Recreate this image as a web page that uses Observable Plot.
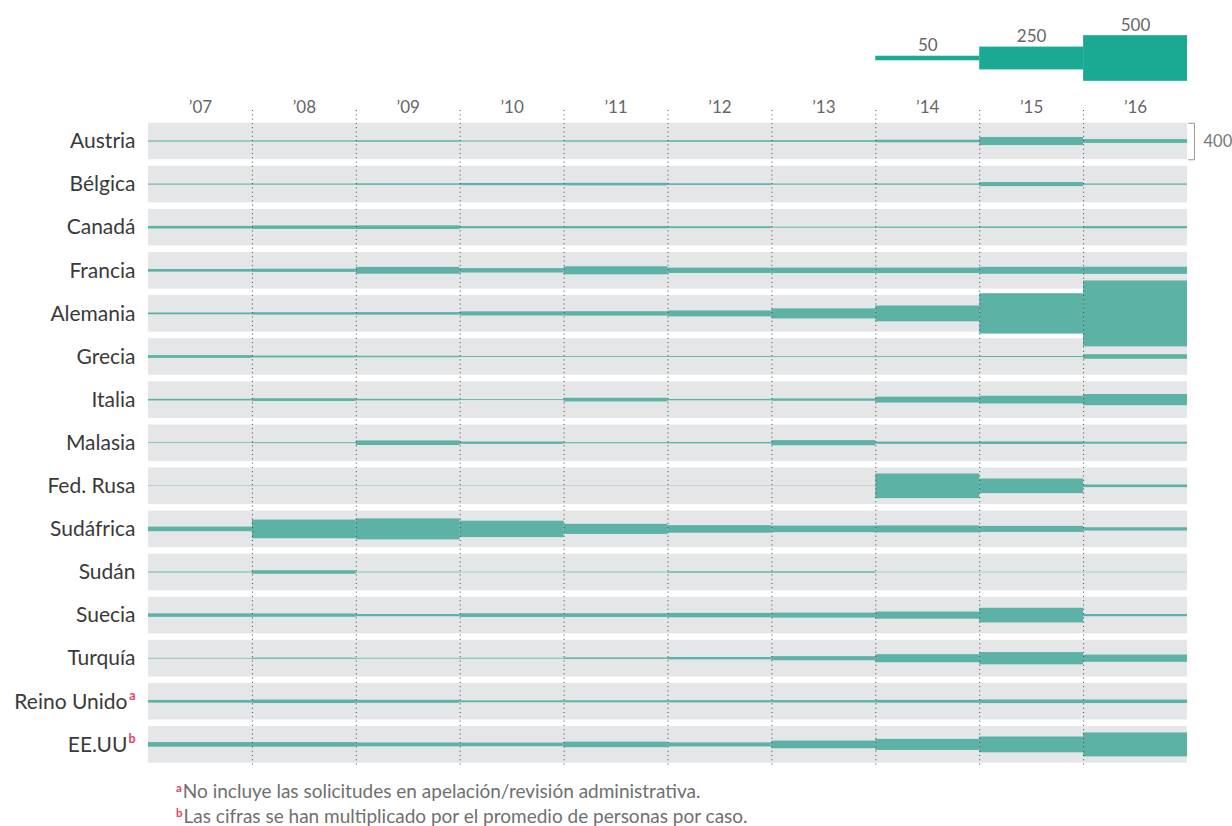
<!DOCTYPE html>
<html>
<head>
<meta charset="utf-8">
<script src="https://cdn.jsdelivr.net/npm/d3@7"></script>
<script src="https://cdn.jsdelivr.net/npm/@observablehq/plot@0.6"></script>
<style>
  html, body { margin: 0; padding: 0; background: #fff; }
  body { width: 1232px; height: 826px; overflow: hidden; font-family: Lato, "Open Sans", sans-serif; }
  #notes { margin-top: 8px; padding-left: 176px; font-size: 19px; line-height: 25px; color: #6f6f6f; }
  #notes sup { color: #e8416a; font-size: 11.5px; font-weight: bold; vertical-align: 6px; line-height: 0; margin-right: 1px; }
</style>
</head>
<body>
<div id="chart"></div>
<div id="notes">
  <div><sup>a</sup>No incluye las solicitudes en apelación/revisión administrativa.</div>
  <div><sup>b</sup>Las cifras se han multiplicado por el promedio de personas por caso.</div>
</div>
<script>
// ---- data (thousands of applications) ----
const countries = ["Austria","Bélgica","Canadá","Francia","Alemania","Grecia","Italia","Malasia","Fed. Rusa","Sudáfrica","Sudán","Suecia","Turquía","Reino Unido","EE.UU"];
const notes = ["","","","","","","","","","","","","","a","b"];
const years = [2007,2008,2009,2010,2011,2012,2013,2014,2015,2016];
const yearLabels = ["’07","’08","’09","’10","’11","’12","’13","’14","’15","’16"];

const austria    = [12, 13, 16, 11, 14, 17, 18, 28, 88, 42];
const belgica    = [11, 12, 17, 24, 28, 18, 12, 14, 44, 14];
const canada     = [28, 37, 40, 23, 25, 20, 10, 13, 16, 24];
const francia    = [29, 35, 75, 48, 88, 58, 60, 60, 76, 78];
const alemania   = [20, 26, 28, 45, 48, 65, 110, 173, 442, 722];
const grecia     = [30, 20, 16, 10, 9, 10, 8, 9, 11, 50];
const italia     = [18, 30, 17, 10, 40, 15, 25, 64, 84, 122];
const malasia    = [7, 10, 50, 25, 12, 15, 56, 24, 28, 22];
const rusia      = [4, 4, 4, 4, 3, 3, 3, 270, 160, 29];
const sudafrica  = [50, 204, 230, 179, 110, 82, 72, 76, 66, 36];
const sudan      = [10, 38, 8, 5, 7, 15, 15, 5, 5, 5];
const suecia     = [38, 36, 24, 40, 40, 48, 54, 78, 160, 24];
const turquia    = [7, 13, 8, 9, 16, 26, 45, 88, 134, 79];
const reinoUnido = [30, 38, 32, 20, 22, 24, 26, 31, 39, 38];
const eeuu       = [50, 50, 42, 40, 60, 45, 84, 121, 173, 262];

const series = [austria, belgica, canada, francia, alemania, grecia, italia, malasia, rusia, sudafrica, sudan, suecia, turquia, reinoUnido, eeuu];

const legendValues = [50, 250, 500];
const legendYears  = [2014, 2015, 2016];
const bandValue = 400;

// ---- layout constants ----
const W = 1232, H = 770;
const pitch = 472;                 // row pitch in value units
const pxPerRow = 43.1;             // row pitch in pixels
const firstRowPx = 141;            // pixel centre of first row
const k = pxPerRow / pitch;        // px per unit
const yTop = -firstRowPx / k, yBot = (H - firstRowPx) / k;
const u = px => px / k;            // pixels -> value units
const xpx = px => px / 103.9;      // pixels -> years

const rows = countries.map((c, i) => ({country: c, note: notes[i], c: i * pitch}));
const cells = [];
series.forEach((s, i) => s.forEach((v, j) => cells.push({country: countries[i], year: years[j], v, c: i * pitch})));
const legend = legendValues.map((v, i) => ({v, year: legendYears[i], c: u(58 - firstRowPx)}));
const yearRow = years.map((y, i) => ({year: y, label: yearLabels[i]}));
const dividers = years.slice(0, -1).map(y => y + 0.5);

const xEnd = 2016.5;
const bracket = [
  {x: xEnd + xpx(1), y: -bandValue / 2},
  {x: xEnd + xpx(7), y: -bandValue / 2},
  {x: xEnd + xpx(7), y: bandValue / 2},
  {x: xEnd + xpx(1), y: bandValue / 2}
];

const font = "Lato, 'Open Sans', sans-serif";
const plain = rows.filter(d => !d.note);
const noted = rows.filter(d => d.note);

const plot = Plot.plot({
  width: W, height: H,
  marginLeft: 148, marginRight: 45, marginTop: 0, marginBottom: 0,
  x: {domain: [2006.5, 2016.5], axis: null},
  y: {domain: [yTop, yBot], range: [0, H], axis: null},
  style: {fontFamily: font, background: "white", overflow: "visible"},
  marks: [
    // grey bands
    Plot.rect(rows, {x1: 2006.5, x2: 2016.5, y1: d => d.c - bandValue / 2, y2: d => d.c + bandValue / 2, fill: "#e5e6e8"}),
    // flows
    Plot.rect(cells, {x1: d => d.year - 0.5, x2: d => d.year + 0.5, y1: d => d.c - d.v / 2, y2: d => d.c + d.v / 2, fill: "#5bb2a5"}),
    // dotted year dividers
    Plot.ruleX(dividers, {x: d => d, y1: u(110 - firstRowPx), y2: u(766 - firstRowPx), stroke: "#444", strokeWidth: 1, strokeDasharray: "1,3.3"}),
    // year labels
    Plot.text(yearRow, {x: "year", y: u(107 - firstRowPx), text: "label", fontSize: 17, fill: "#666"}),
    // country labels
    Plot.text(plain, {x: 2006.5, y: "c", text: "country", textAnchor: "end", dx: -13, fontSize: 21, fill: "#3a3a3a"}),
    Plot.text(noted, {x: 2006.5, y: "c", text: "country", textAnchor: "end", dx: -21, fontSize: 21, fill: "#3a3a3a"}),
    Plot.text(noted, {x: 2006.5, y: "c", text: "note", textAnchor: "end", dx: -13, dy: -6, fontSize: 12.5, fontWeight: "bold", fill: "#e8416a"}),
    // legend
    Plot.rect(legend, {x1: d => d.year - 0.5, x2: d => d.year + 0.5, y1: d => d.c - d.v / 2, y2: d => d.c + d.v / 2, fill: "#1aa993"}),
    Plot.text(legend, {x: "year", y: d => d.c - d.v / 2, text: d => String(d.v), lineAnchor: "bottom", dy: -5, fontSize: 17, fill: "#666"}),
    // scale bracket
    Plot.line(bracket, {x: "x", y: "y", stroke: "#999", strokeWidth: 1}),
    Plot.text([{v: bandValue}], {x: xEnd, y: 0, text: d => String(d.v), textAnchor: "start", dx: 16, fontSize: 16.5, fill: "#777"})
  ]
});

document.getElementById("chart").appendChild(plot);
</script>
</body>
</html>
